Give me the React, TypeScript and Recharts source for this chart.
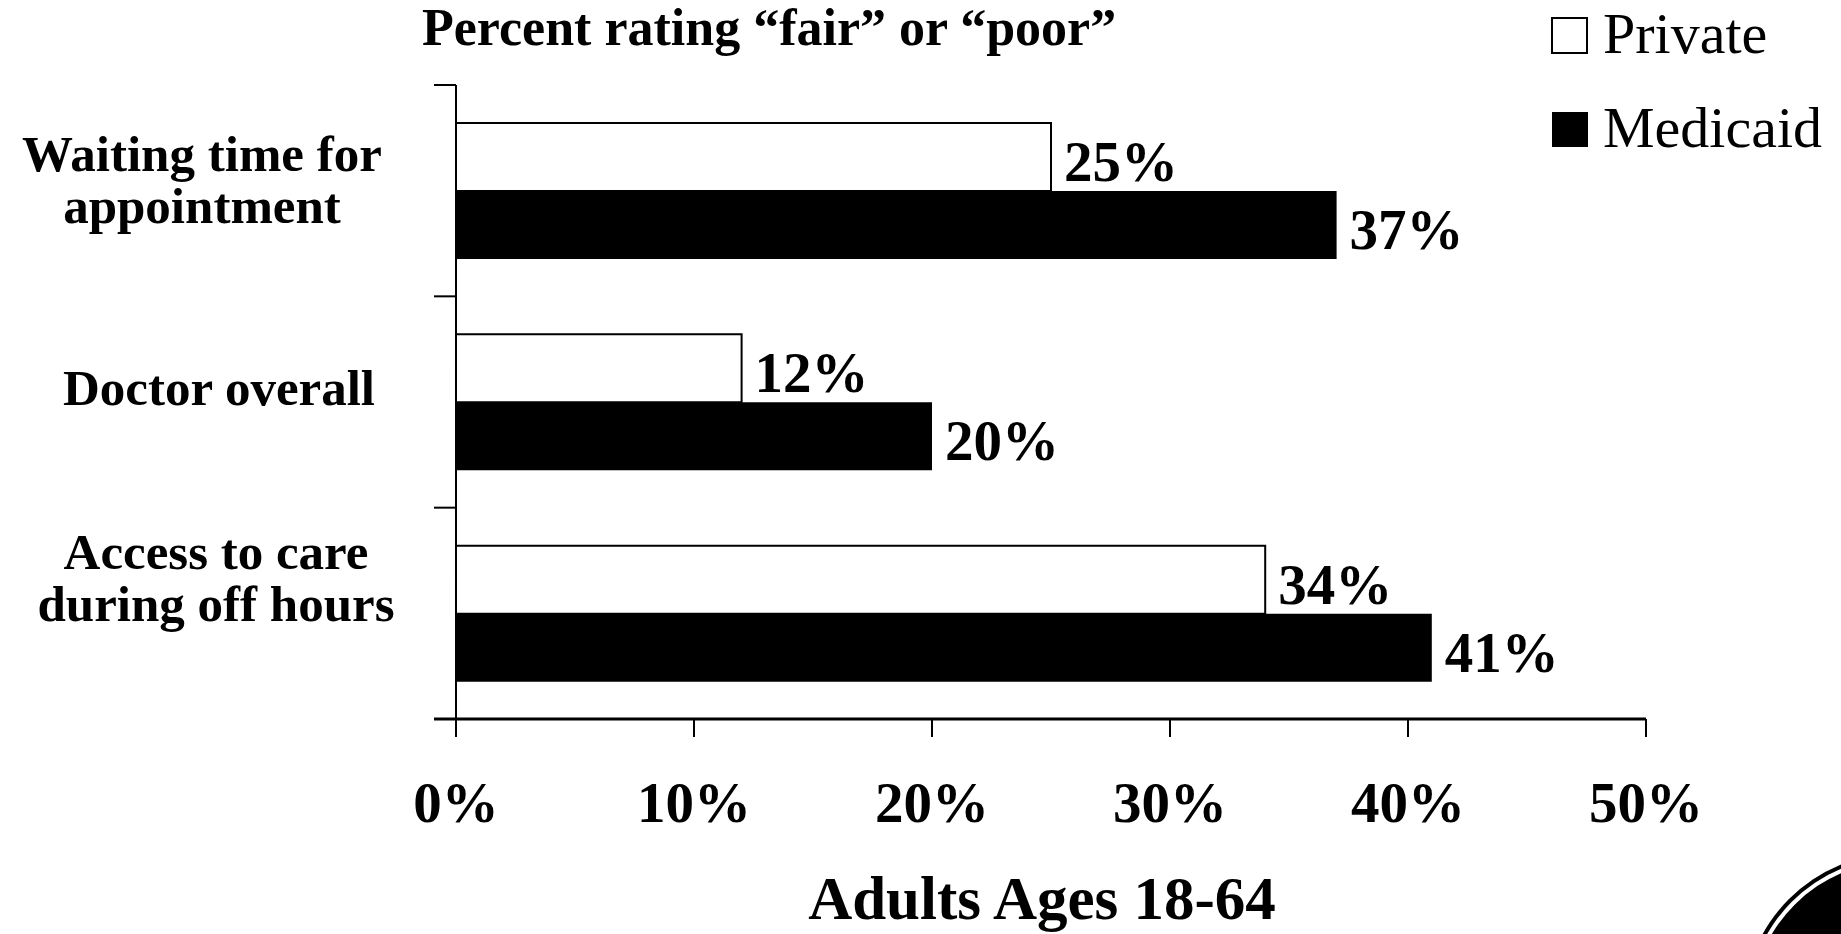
import React from 'react';
import { BarChart, Bar, XAxis, YAxis, LabelList } from 'recharts';

// ---------- data ----------
const categories = [
  'Waiting time for appointment',
  'Doctor overall',
  'Access to care during off hours',
];
const categoryLines = [
  ['Waiting time for', 'appointment'],
  ['Doctor overall'],
  ['Access to care', 'during off hours'],
];
const seriesNames = ['Private', 'Medicaid'];
const privateValues = [25, 12, 34];
const medicaidValues = [37, 20, 41];
const xTicks = [0, 10, 20, 30, 40, 50];
const chartTitle = 'Percent rating \u201Cfair\u201D or \u201Cpoor\u201D';
const axisTitle = 'Adults Ages 18-64';

const data = categories.map((name, i) => ({
  name,
  private: privateValues[i],
  medicaid: medicaidValues[i],
}));

// ---------- style ----------
const W = 1841;
const H = 934;
const SERIF = '"Liberation Serif", "Times New Roman", Times, serif';
const MARGIN = { top: 85, right: 195, bottom: 0, left: 0 };
const Y_AXIS_W = 456;
const X_AXIS_H = 215;
const BAND_HALF = (H - X_AXIS_H - MARGIN.top) / categories.length / 2;
// per-category label placement tweaks (center x, vertical shift)
const LABEL_CX = [202, 219, 216];
const LABEL_DY = [3, 0, -21];
const LINE_H = 52;

const YTick = (props: any) => {
  const { x, y, payload } = props;
  const i = categories.indexOf(payload.value);
  const half = typeof payload.offset === 'number' && payload.offset > 0 ? payload.offset : BAND_HALF;
  const lines = categoryLines[i] || [String(payload.value)];
  const n = lines.length;
  const firstBase = y + 3 + LABEL_DY[i] - ((n - 1) * LINE_H) / 2;
  return (
    <g>
      <line x1={x - 22} x2={x} y1={y - half} y2={y - half} stroke="#000" strokeWidth={2} />
      {i === categories.length - 1 && (
        <line x1={x - 22} x2={x} y1={y + half} y2={y + half} stroke="#000" strokeWidth={3} />
      )}
      <text
        textAnchor="middle"
        fontFamily={SERIF}
        fontWeight="bold"
        fontSize={51}
        fill="#000"
      >
        {lines.map((l, k) => (
          <tspan key={k} x={LABEL_CX[i]} y={firstBase + k * LINE_H}>
            {l}
          </tspan>
        ))}
      </text>
    </g>
  );
};

const XTick = (props: any) => {
  const { x, y, payload } = props;
  return (
    <text
      x={x}
      y={y + 85}
      textAnchor="middle"
      fontFamily={SERIF}
      fontWeight="bold"
      fontSize={57}
      fill="#000"
    >
      {`${payload.value}%`}
    </text>
  );
};

const valueLabel = (props: any) => {
  const { x, y, width, height, value } = props;
  return (
    <text
      x={x + width + 13}
      y={y + height / 2 + 24}
      textAnchor="start"
      fontFamily={SERIF}
      fontWeight="bold"
      fontSize={57}
      fill="#000"
    >
      {`${value}%`}
    </text>
  );
};

export default function App() {
  return (
    <div style={{ position: 'absolute', left: 0, top: 0, width: W, height: H, background: '#fff' }}>
      <BarChart
        width={W}
        height={H}
        data={data}
        layout="vertical"
        margin={MARGIN}
        barGap={0}
        barSize={68}
      >
        <XAxis
          type="number"
          domain={[0, 50]}
          ticks={xTicks}
          interval={0}
          height={X_AXIS_H}
          axisLine={{ stroke: '#000', strokeWidth: 3 }}
          tickLine={{ stroke: '#000', strokeWidth: 2 }}
          tickSize={18}
          tickMargin={0}
          tick={<XTick />}
        />
        <YAxis
          type="category"
          dataKey="name"
          width={Y_AXIS_W}
          axisLine={{ stroke: '#000', strokeWidth: 2 }}
          tickLine={false}
          tickSize={0}
          tickMargin={0}
          interval={0}
          tick={<YTick />}
        />
        <Bar
          dataKey="private"
          name={seriesNames[0]}
          fill="#fff"
          stroke="#000"
          strokeWidth={2}
          isAnimationActive={false}
        >
          <LabelList dataKey="private" content={valueLabel} />
        </Bar>
        <Bar
          dataKey="medicaid"
          name={seriesNames[1]}
          fill="#000"
          isAnimationActive={false}
        >
          <LabelList dataKey="medicaid" content={valueLabel} />
        </Bar>
      </BarChart>
      <svg
        width={W}
        height={H}
        style={{ position: 'absolute', left: 0, top: 0, pointerEvents: 'none' }}
      >
        <text x={422} y={45} fontFamily={SERIF} fontWeight="bold" fontSize={52} fill="#000">
          {chartTitle}
        </text>
        <text
          x={1042}
          y={919}
          textAnchor="middle"
          fontFamily={SERIF}
          fontWeight="bold"
          fontSize={61}
          fill="#000"
        >
          {axisTitle}
        </text>
        <rect x={1552} y={18} width={35} height={35} fill="#fff" stroke="#000" strokeWidth={2} />
        <text x={1603} y={53} fontFamily={SERIF} fontSize={58} fill="#000">
          {seriesNames[0]}
        </text>
        <rect x={1552} y={112} width={36} height={35} fill="#000" />
        <text x={1603} y={147} fontFamily={SERIF} fontSize={58} fill="#000">
          {seriesNames[1]}
        </text>
        <circle cx={1900} cy={1010} r={157} fill="#000" />
        <circle cx={1900} cy={1010} r={153} fill="#fff" />
        <circle cx={1900} cy={1010} r={149} fill="#000" />
      </svg>
    </div>
  );
}
